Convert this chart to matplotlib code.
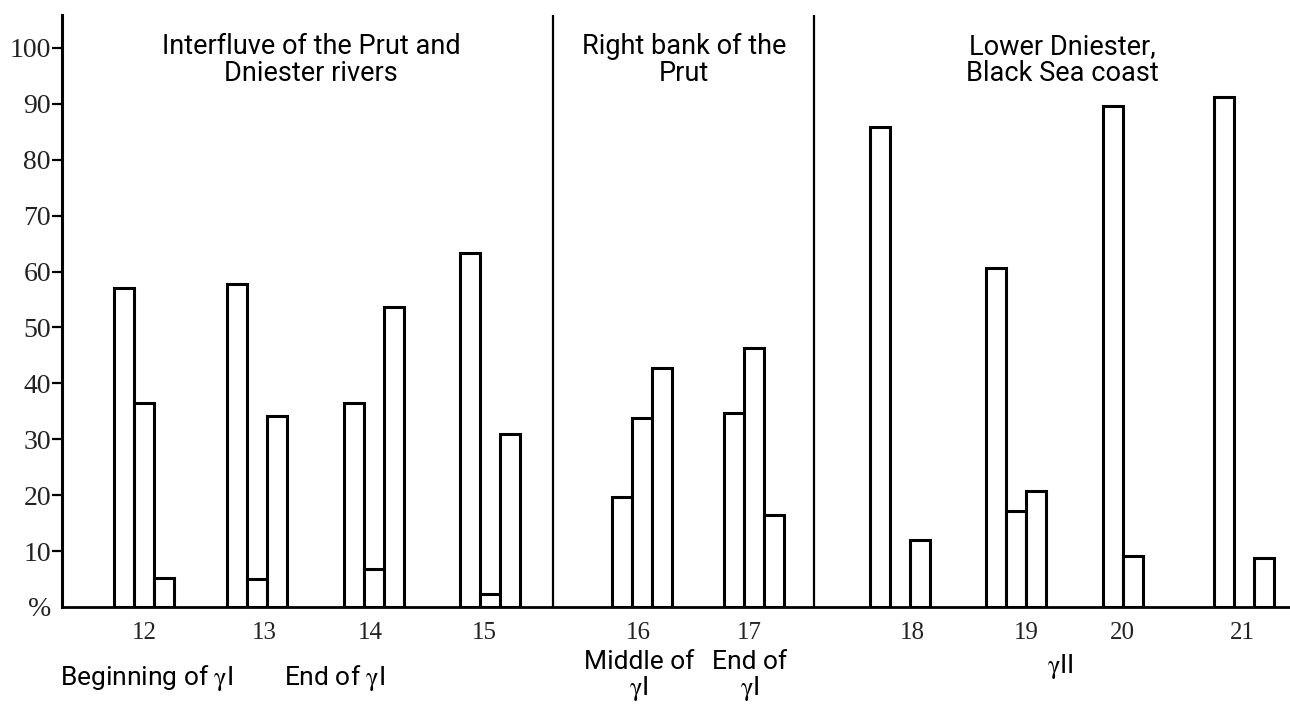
import numpy as np
import matplotlib
matplotlib.use("Agg")
import matplotlib.pyplot as plt
from matplotlib.transforms import blended_transform_factory

plt.rcParams["mathtext.fontset"] = "stix"

# sections and site numbers
sites = ["12", "13", "14", "15", "16", "17", "18", "19", "20", "21"]
sections = ["Interfluve of the Prut and\nDniester rivers",
            "Right bank of the\nPrut",
            "Lower Dniester,\nBlack Sea coast"]
periods = [r"Beginning of $\mathrm{\gamma}$I", r"End of $\mathrm{\gamma}$I",
           "Middle of\n" + r"$\mathrm{\gamma}$I", "End of\n" + r"$\mathrm{\gamma}$I",
           r"$\mathrm{\gamma}$II"]

# three bars per site (nan = no bar), percent
s1 = [57.0, 57.7, 36.5, 63.4, 19.7, 34.7, 85.8, 60.7, 89.7, 91.2]
s2 = [36.5, 5.0, 6.8, 2.3, 33.8, 46.4, np.nan, 17.2, 9.1, np.nan]
s3 = [5.2, 34.2, 53.7, 31.0, 42.8, 16.5, 12.0, 20.8, np.nan, 8.7]
yticks = [0, 10, 20, 30, 40, 50, 60, 70, 80, 90, 100]
ytick_labels = ["%", "10", "20", "30", "40", "50", "60", "70", "80", "90", "100"]

# layout (x in bar-width units)
centers = np.array([4.1, 9.75, 15.6, 21.4, 29.0, 34.6, 41.9, 47.7, 53.55, 59.1])
label_shift = np.array([0.0, 0.35, -0.2, -0.3, -0.2, -0.25, 0.6, 0.5, -0.55, -0.1])
dividers = [24.55, 37.6]
section_x = [12.45, 31.1, 50.0]
period_x = [4.25, 13.65, 28.85, 34.4, 49.9]
period_y = [-0.12, -0.12, -0.118, -0.118, -0.101]

fig = plt.figure(figsize=(12.9, 7.06), dpi=100)
ax = fig.add_axes([62 / 1290, 99 / 706, 1 - 62 / 1290, 592 / 706])

w = 1.0
for off, vals in zip([-1, 0, 1], [s1, s2, s3]):
    ax.bar(centers + off * w, vals, width=w, facecolor="white",
           edgecolor="black", linewidth=2.2, zorder=3)

for d in dividers:
    ax.axvline(d, color="black", lw=1.6, zorder=2)

ax.set_xlim(0, 61.4)
ax.set_ylim(0, 105.9)
for side in ["top", "right"]:
    ax.spines[side].set_visible(False)
ax.spines["left"].set_linewidth(2.2)
ax.spines["bottom"].set_linewidth(2.0)

ax.set_yticks(yticks)
ax.set_yticklabels(ytick_labels, family="Liberation Serif", fontsize=20, color="#222222")
ax.tick_params(axis="y", length=7, width=1.6, pad=1)
ax.yaxis.get_major_ticks()[0].tick1line.set_visible(False)

ax.set_xticks(centers + label_shift)
ax.set_xticklabels(sites, family="Liberation Serif", fontsize=18, color="#222222")
ax.tick_params(axis="x", length=0, pad=11)

for x, t in zip(section_x, sections):
    ax.text(x, 97.8, t, ha="center", va="center", family="Roboto",
            fontsize=19.5, linespacing=1.0)

tr = blended_transform_factory(ax.transData, ax.transAxes)
for x, y, t in zip(period_x, period_y, periods):
    ax.text(x, y, t, transform=tr, ha="center", va="center",
            family=["Roboto", "DejaVu Sans"], fontsize=19, linespacing=1.0)

fig.savefig("out.png", dpi=100)
